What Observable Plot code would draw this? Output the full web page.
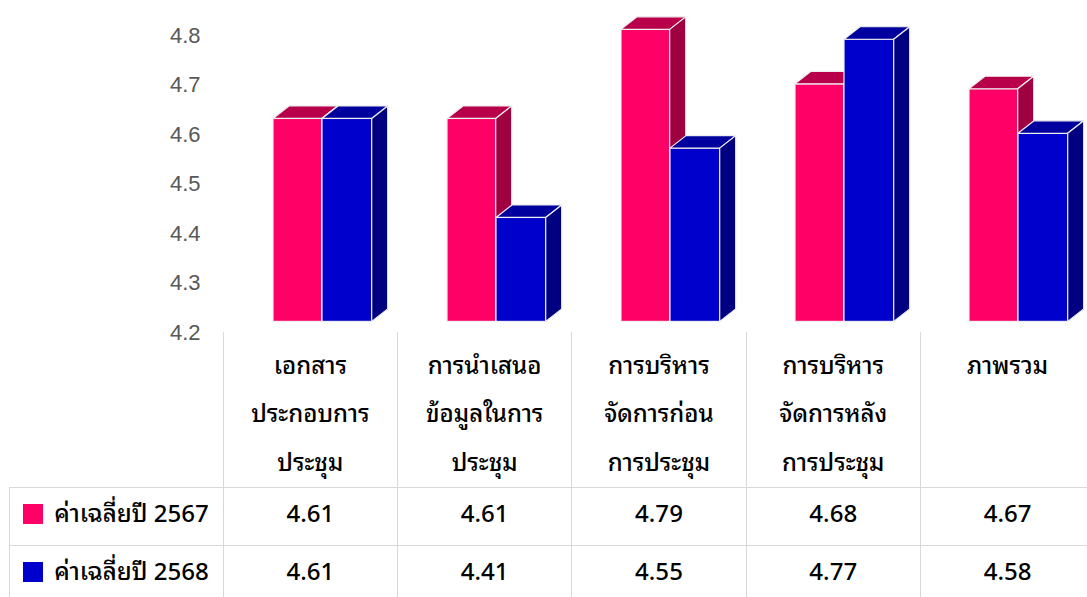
<!DOCTYPE html>
<html><head><meta charset="utf-8">
<script src="https://cdn.jsdelivr.net/npm/d3@7"></script>
<script src="https://cdn.jsdelivr.net/npm/@observablehq/plot@0.6"></script>
<style>
html,body{margin:0;padding:0;background:#fff;overflow:hidden}
#wrap{position:relative;width:1087px;height:597px;overflow:hidden}
#chart{position:absolute;left:0;top:0}
#tbl{position:absolute;left:9.3px;top:331.5px;border-collapse:collapse;table-layout:fixed;width:1085px;
  font-family:"Noto Sans Thai Looped","Leelawadee UI",Tahoma,"Noto Sans Thai","Noto Sans",sans-serif;font-size:24px;font-weight:500;color:#000}
#tbl td{border:1.5px solid #d9d9d9;text-align:center;vertical-align:middle;padding:0;white-space:nowrap}
#tbl tr.head{height:155.8px}
#tbl tr.head td{border-top:none;vertical-align:top;line-height:48.5px;padding-top:7px}
#tbl tr.head td.empty{border-left:none}
#tbl tr.row{height:58.7px}
#tbl tr.row td{line-height:30px;padding-bottom:12px}
#tbl td.leg{text-align:left;padding-left:13px}
.sw{display:inline-block;width:20px;height:20px;margin-right:11px;vertical-align:-2px}
</style></head><body><div id="wrap"><div id="chart"></div><table id="tbl"></table></div>
<script>
const categories = ["เอกสารประกอบการประชุม","การนำเสนอข้อมูลในการประชุม","การบริหารจัดการก่อนการประชุม","การบริหารจัดการหลังการประชุม","ภาพรวม"];
const headerLines = [["เอกสาร","ประกอบการ","ประชุม"],["การนำเสนอ","ข้อมูลในการ","ประชุม"],["การบริหาร","จัดการก่อน","การประชุม"],["การบริหาร","จัดการหลัง","การประชุม"],["ภาพรวม"]];
const seriesNames = ["ค่าเฉลี่ยปี 2567","ค่าเฉลี่ยปี 2568"];
const values2567 = [4.61,4.61,4.79,4.68,4.67];
const values2568 = [4.61,4.41,4.55,4.77,4.58];
const yTicks = [4.2,4.3,4.4,4.5,4.6,4.7,4.8];

const frontColors = ["#FF0066","#0000CC"];
const topColors = ["#B8004A","#00009E"];
const sideColors = ["#9E0040","#000080"];
const edge = "#eeeeee";
const DX = 16, DY = -12.5;
const insets = [[50,75.3],[99,25.3]];

const seriesData = [values2567, values2568].map((vals, s) =>
  categories.map((cat, i) => ({cat, value: vals[i], series: seriesNames[s]})));

function faces(data, s) {
  return (index, scales) => {
    const sx = scales.x, sy = scales.y;
    const bw = typeof sx.bandwidth === "function" ? sx.bandwidth() : sx.bandwidth;
    const y0 = sy.domain ? sy.domain()[0] : yTicks[0];
    const g = d3.create("svg:g");
    for (const d of data) {
      const x0 = sx(d.cat) + insets[s][0], x1 = sx(d.cat) + bw - insets[s][1];
      const yt = sy(d.value), yb = sy(y0);
      g.append("path")
        .attr("d", `M${x0},${yt}L${x0+DX},${yt+DY}L${x1+DX},${yt+DY}L${x1},${yt}Z`)
        .attr("fill", topColors[s]).attr("stroke", edge).attr("stroke-width", 1.2).attr("stroke-linejoin","round");
      g.append("path")
        .attr("d", `M${x1},${yt}L${x1+DX},${yt+DY}L${x1+DX},${yb+DY}L${x1},${yb}Z`)
        .attr("fill", sideColors[s]).attr("stroke", edge).attr("stroke-width", 1.2).attr("stroke-linejoin","round");
    }
    return g.node();
  };
}

const marks = [];
seriesData.forEach((data, s) => {
  marks.push(Plot.barY(data, {x: "cat", y1: () => yTicks[0], y2: "value", fill: frontColors[s],
    stroke: edge, strokeWidth: 1.2, insetLeft: insets[s][0], insetRight: insets[s][1]}));
  marks.push(faces(data, s));
});
marks.push(Plot.axisY({ticks: yTicks, tickSize: 0, tickPadding: 22.7, dy: 11, tickFormat: d => d.toFixed(1),
  fontSize: 22, fill: "#595959", label: null}));

const chart = Plot.plot({
  width: 1087, height: 335,
  marginTop: 24.4, marginBottom: 13.6, marginLeft: 222.7, marginRight: 0,
  x: {domain: categories, range: [222.7, 1094], padding: 0, axis: null},
  y: {domain: [yTicks[0], yTicks[yTicks.length-1]], axis: null, label: null},
  style: {fontFamily: "'Liberation Sans', Arial, sans-serif", color: "#595959", background: "transparent", overflow: "visible"},
  marks
});
document.getElementById("chart").appendChild(chart);

// data table
const tbl = document.getElementById("tbl");
const cg = document.createElement("colgroup");
[213.4, ...categories.map(() => 174.32)].forEach(w => { const c = document.createElement("col"); c.style.width = w + "px"; cg.appendChild(c); });
tbl.appendChild(cg);
const hr = document.createElement("tr"); hr.className = "head";
const e = document.createElement("td"); e.className = "empty"; hr.appendChild(e);
headerLines.forEach(lines => { const td = document.createElement("td"); td.innerHTML = lines.join("<br>"); hr.appendChild(td); });
tbl.appendChild(hr);
[values2567, values2568].forEach((vals, s) => {
  const tr = document.createElement("tr"); tr.className = "row";
  const lg = document.createElement("td"); lg.className = "leg";
  lg.innerHTML = `<span class="sw" style="background:${frontColors[s]}"></span>${seriesNames[s]}`;
  tr.appendChild(lg);
  vals.forEach(v => { const td = document.createElement("td"); td.textContent = v.toFixed(2); tr.appendChild(td); });
  tbl.appendChild(tr);
});
</script></body></html>
